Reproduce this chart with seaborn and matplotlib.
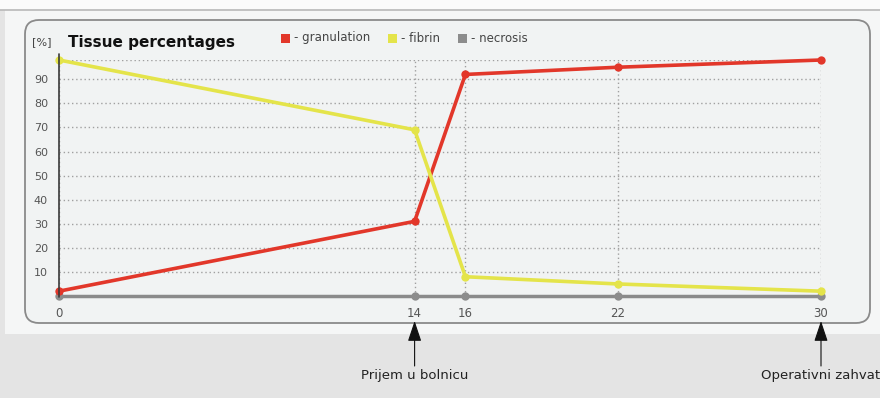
import matplotlib
matplotlib.use("Agg")
import matplotlib.pyplot as plt
import seaborn as sns
import pandas as pd
from matplotlib.patches import FancyBboxPatch, Rectangle

days = [0, 14, 16, 22, 30]
granulation = [2, 31, 92, 95, 98]
fibrin = [98, 69, 8, 5, 2]
necrosis = [0, 0, 0, 0, 0]
series_names = ["granulation", "fibrin", "necrosis"]
series_colors = ["#e2372a", "#e4e44a", "#8c8c8c"]
y_ticks = [10, 20, 30, 40, 50, 60, 70, 80, 90]
events = [(14, "Prijem u bolnicu"), (30, "Operativni zahvat")]

sns.set_theme(style="white")
plt.rcParams['font.family'] = ['DejaVu Sans']

df = pd.DataFrame({
    "day": days * 3,
    "value": granulation + fibrin + necrosis,
    "tissue": sum([[n] * len(days) for n in series_names], []),
})

W, H = 880, 398
fig = plt.figure(figsize=(W / 100, H / 100), dpi=100, facecolor="#e4e4e4")
inch = fig.dpi_scale_trans


def fx(px):
    return px / W


def fy(py):
    return 1 - py / H


def ip(px, py):
    # pixel (top-left origin) -> inches (bottom-left origin)
    return px / 100, (H - py) / 100


# background panels
fig.patches.append(Rectangle(ip(0, 10), W / 100, 0.10, transform=inch,
                             facecolor="#fbfbfb", edgecolor="none", zorder=-5))
fig.patches.append(Rectangle(ip(5, 334), W / 100, (334 - 10) / 100, transform=inch,
                             facecolor="#f5f6f6", edgecolor="none", zorder=-5))
fig.lines.append(plt.Line2D([0, 1], [fy(10), fy(10)], transform=fig.transFigure,
                            color="#b8b8b8", lw=1.2, zorder=-4))
fig.patches.append(FancyBboxPatch(ip(25, 323), (870 - 25) / 100, (323 - 20) / 100,
                                  boxstyle="round,pad=0,rounding_size=0.14",
                                  transform=inch, facecolor="#f1f3f3",
                                  edgecolor="#8a8a8a", lw=1.3, zorder=-4))

ax = fig.add_axes([fx(59), fy(296), fx(821) - fx(59), (296 - 60) / H])
ax.set_facecolor("none")

palette = dict(zip(series_names, series_colors))
sns.lineplot(data=df[df.tissue != "necrosis"], x="day", y="value", hue="tissue",
             palette=palette, lw=2.6, marker="o", markersize=6, markeredgewidth=0,
             legend=False, ax=ax, clip_on=False, zorder=4)
sns.scatterplot(data=df[df.tissue == "necrosis"], x="day", y="value", color=series_colors[2],
                s=36, marker="o", linewidth=0, legend=False, ax=ax, clip_on=False, zorder=3)

ax.set_xlim(0, 30)
ax.set_ylim(0, 98)
ax.set_xticks(days)
ax.set_xticklabels([str(d) for d in days], color="#555555", fontsize=8.5)
ax.set_yticks(y_ticks)
ax.set_yticklabels([str(v) for v in y_ticks], color="#555555", fontsize=8)
ax.tick_params(axis="both", length=0)
ax.tick_params(axis="x", pad=8)
ax.tick_params(axis="y", pad=8)
ax.set_xlabel("")
ax.set_ylabel("")
ax.grid(True, color="#a0a0a0", linestyle=(0, (1, 2)), lw=1.0)
ax.set_axisbelow(True)

for s in ["top", "right"]:
    ax.spines[s].set_visible(False)
ax.axhline(98, color="#a0a0a0", linestyle=(0, (1, 2)), lw=1.0, zorder=1)
ax.spines["bottom"].set_color("#8a8a8a")
ax.spines["bottom"].set_linewidth(2.5)
ax.spines["left"].set_visible(False)
fig.lines.append(plt.Line2D([fx(59), fx(59)], [fy(297), fy(54)], transform=fig.transFigure,
                            color="#3a3a3a", lw=1.2, zorder=5))

# title, unit, legend
fig.text(fx(32), fy(42), "[%]", fontsize=8, color="#444444", va="center")
fig.text(fx(68), fy(42), "Tissue percentages", fontsize=11, fontweight="bold",
         color="#111111", va="center")
lx = [281, 388, 458]
for x0, name, col in zip(lx, series_names, series_colors):
    fig.patches.append(Rectangle(ip(x0, 43), 0.09, 0.09, transform=inch,
                                 facecolor=col, edgecolor="none", zorder=3))
    fig.text(fx(x0 + 13), fy(38), "- " + name, fontsize=8.5, color="#444444", va="center")

# event annotations
fig.canvas.draw()
for d, label in events:
    xpix = ax.transData.transform((d, 0))[0]  # display pixels from left
    ax.annotate("", xy=(fx(xpix), fy(321)), xytext=(fx(xpix), fy(366)),
                xycoords="figure fraction", textcoords="figure fraction",
                arrowprops=dict(arrowstyle="-|>,head_length=0.9,head_width=0.3",
                                mutation_scale=14, color="#111111", lw=0.8,
                                shrinkA=0, shrinkB=0),
                annotation_clip=False)
    fig.text(fx(xpix), fy(375), label, fontsize=9.5, color="#222222",
             ha="center", va="center")

fig.savefig("out.png", dpi=100, facecolor=fig.get_facecolor())
